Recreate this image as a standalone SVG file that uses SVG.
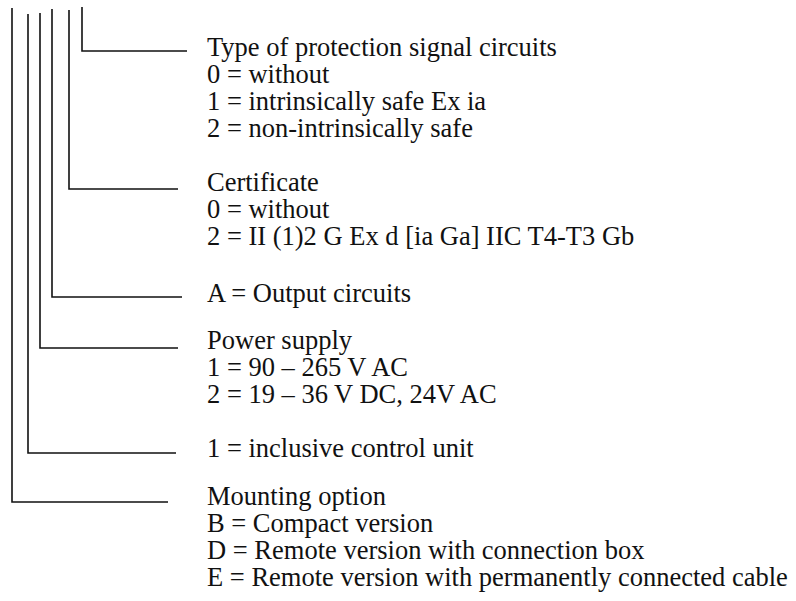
<svg xmlns="http://www.w3.org/2000/svg" width="796" height="601" viewBox="0 0 796 601">
<style>
.t{font-family:"Liberation Serif","Times New Roman",serif;font-size:26.5px;fill:#111}
.l{stroke:#111;stroke-width:1.6;fill:none}
</style>
<rect width="796" height="601" fill="#fff"/>
<g id="connectors">
<polyline class="l" points="82,7 82,51 187,51"/>
<polyline class="l" points="69,10 69,189 178,189"/>
<polyline class="l" points="52,9 52,297 182,297"/>
<polyline class="l" points="40,13 40,348 178,348"/>
<polyline class="l" points="28,14 28,453 176,453"/>
<polyline class="l" points="12,8 12,502 168,502"/>
</g>
<g id="protection">
<text class="t" x="207" y="56">Type of protection signal circuits<tspan x="207" dy="27">0 = without</tspan><tspan x="207" dy="27">1 = intrinsically safe Ex ia</tspan><tspan x="207" dy="27">2 = non-intrinsically safe</tspan></text>
</g>
<g id="certificate">
<text class="t" x="207" y="191">Certificate<tspan x="207" dy="27">0 = without</tspan><tspan x="207" dy="27">2 = II (1)2 G Ex d [ia Ga] IIC T4-T3 Gb</tspan></text>
</g>
<g id="output">
<text class="t" x="207" y="302">A = Output circuits</text>
</g>
<g id="power">
<text class="t" x="207" y="349">Power supply<tspan x="207" dy="27">1 = 90 – 265 V AC</tspan><tspan x="207" dy="27">2 = 19 – 36 V DC, 24V AC</tspan></text>
</g>
<g id="control">
<text class="t" x="207" y="457">1 = inclusive control unit</text>
</g>
<g id="mounting">
<text class="t" x="207" y="505">Mounting option<tspan x="207" dy="27">B = Compact version</tspan><tspan x="207" dy="27">D = Remote version with connection box</tspan><tspan x="207" dy="27">E = Remote version with permanently connected cable</tspan></text>
</g>
</svg>
